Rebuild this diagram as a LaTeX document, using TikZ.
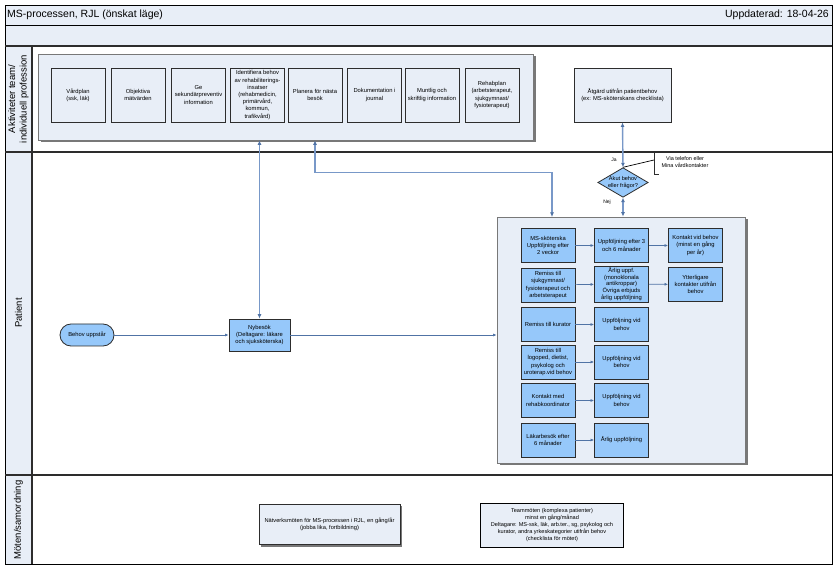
\documentclass[tikz,border=0pt]{standalone}
\usepackage{fontspec}
\setmainfont{Liberation Sans}
\usetikzlibrary{arrows.meta,shapes.geometric,calc}
\definecolor{lightbg}{RGB}{232,238,247}
\definecolor{boxblue}{RGB}{150,200,250}
\definecolor{dark}{RGB}{45,45,45}
\definecolor{connc}{RGB}{80,115,165}
\definecolor{connl}{RGB}{120,152,200}
\definecolor{shadowc}{RGB}{120,120,120}
\begin{document}
\begin{tikzpicture}[x=1pt,y=-1pt,
  boxfont/.style={font=\fontsize{5.8}{7.2}\selectfont},
  act/.style={draw=dark, fill=lightbg, line width=0.8pt, minimum width=54pt, minimum height=54pt, inner sep=0pt, align=center, boxfont},
  bb/.style={draw=dark, fill=boxblue, line width=0.8pt, minimum width=54pt, minimum height=34pt, inner sep=0pt, align=center, boxfont},
  cont/.style={draw=shadowc, fill=lightbg, line width=0.8pt, inner sep=0pt},
  conn/.style={draw=connc, line width=0.7pt, -{Latex[length=3.5pt,width=3pt]}},
  conn2/.style={draw=connl, line width=1.4pt, {Latex[length=4.5pt,width=4pt,color=connc]}-{Latex[length=4.5pt,width=4pt,color=connc]}},
  lanelbl/.style={rotate=90, align=center, font=\fontsize{9.5}{11.5}\selectfont},
  frame/.style={draw=black, line width=0.8pt},
  divider/.style={draw=dark, line width=1.6pt},
  smalllbl/.style={font=\fontsize{5}{6}\selectfont, inner sep=0pt}]
\useasboundingbox (0,0) rectangle (839,569);
\fill[white] (0,0) rectangle (839,569);

% header rows
\draw[frame, fill=lightbg] (5,5) rectangle (832,25);
\draw[frame, fill=lightbg] (5,25) rectangle (832,46);
\node[anchor=west, font=\fontsize{10.5}{12}\selectfont, inner sep=0pt] (title) at (7,15) {MS-processen, RJL (önskat läge)};
\node[anchor=east, font=\fontsize{10.5}{12}\selectfont, inner sep=0pt] (upd) at (829,15) {Uppdaterad: 18-04-26};

% lanes
\fill[lightbg] (5,46) rectangle (32,564);
\draw[frame] (5,46) rectangle (832,564);
\draw[divider] (5,46) -- (832,46);
\draw[divider] (5,152) -- (832,152);
\draw[divider] (5,475) -- (832,475);
\draw[draw=dark, line width=1.4pt] (32,46) -- (32,564);
\node[lanelbl] (lane1) at (18.5,99) {Aktiviteter team/\\individuell profession};
\node[lanelbl] (lane2) at (18.5,313) {Patient};
\node[lanelbl] (lane3) at (18.5,520) {Möten/samordning};

% containers
\fill[shadowc] (40.5,56.5) rectangle (535.5,142.5);
\node[cont, minimum width=495pt, minimum height=86pt] (ac) at (285.5,97) {};
\fill[shadowc] (499.5,219.5) rectangle (747.5,465.5);
\node[cont, minimum width=248pt, minimum height=246pt] (rc) at (621,340) {};

% activity boxes
\node[act] (a1) at (78,95) {Vårdplan\\(ssk, läk)};
\node[act] (a2) at (138,95) {Objektiva\\mätvärden};
\node[act] (a3) at (198.5,95) {Ge\\sekundärpreventiv\\information};
\node[act] (a4) at (257.5,95) {Identifiera behov\\av rehabiliterings-\\insatser\\(rehabmedicin,\\primärvård,\\kommun,\\trafikvård)};
\node[act] (a5) at (315,95) {Planera för nästa\\besök};
\node[act] (a6) at (374.5,95) {Dokumentation i\\journal};
\node[act] (a7) at (432,95) {Muntlig och\\skriftlig information};
\node[act] (a8) at (492,95) {Rehabplan\\(arbetsterapeut,\\sjukgymnast/\\fysioterapeut)};

\node[act, minimum width=97pt] (atg) at (622.5,95) {Åtgärd utifrån patientbehov\\(ex: MS-sköterskans checklista)};

% decision
\node[draw=dark, fill=boxblue, line width=0.8pt, shape=diamond, aspect=1.7, inner sep=0pt, align=center, font=\fontsize{5.6}{6.8}\selectfont] (dia) at (623,182.5) {Akut behov\\eller frågor?};
\node[smalllbl] (ja) at (614,160) {Ja};
\node[smalllbl] (nej) at (607,202) {Nej};
\node[align=center, font=\fontsize{5.5}{7}\selectfont, inner sep=0pt] (call) at (685,162.5) {Via telefon eller\\Mina vårdkontakter};
\coordinate (callpt) at (654,160);
\draw[dark, line width=0.7pt] (672,152.5) -- (654,152.5) -- (654,174) -- (659,174);
\draw[black, line width=0.7pt] (dia.north) -- (callpt);

% patient lane start
\node[draw=dark, fill=boxblue, line width=0.8pt, rounded corners=11pt, minimum width=54pt, minimum height=22pt, inner sep=0pt, boxfont] (beh) at (87,335) {Behov uppstår};
\node[bb, minimum width=61pt, minimum height=32pt] (nyb) at (259.5,335) {Nybesök\\(Deltagare: läkare\\och sjuksköterska)};

% right boxes
\node[bb] (r11) at (548,245.5) {MS-sköterska\\Uppföljning efter\\2 veckor};
\node[bb] (r12) at (621.5,245.5) {Uppföljning efter 3\\och 6 månader};
\node[bb] (r13) at (695.5,245.5) {Kontakt vid behov\\(minst en gång\\per år)};
\node[bb] (r21) at (548,285) {Remiss till\\sjukgymnast/\\fysioterapeut och\\arbetsterapeut};
\node[bb, minimum height=36pt, font=\fontsize{5.8}{6.9}\selectfont] (r22) at (621.5,284) {Årlig uppf.\\(monoklonala\\antikroppar)\\Övriga erbjuds\\årlig uppföljning};
\node[bb] (r23) at (695.5,284.5) {Ytterligare\\kontakter utifrån\\behov};
\node[bb] (r31) at (548,324.5) {Remiss till kurator};
\node[bb] (r32) at (621.5,324.5) {Uppföljning vid\\behov};
\node[bb] (r41) at (548,362) {Remiss till\\logoped, dietist,\\psykolog och\\uroterap.vid behov};
\node[bb] (r42) at (621.5,362) {Uppföljning vid\\behov};
\node[bb] (r51) at (548,400.5) {Kontakt med\\rehabkoordinator};
\node[bb] (r52) at (621.5,400.5) {Uppföljning vid\\behov};
\node[bb] (r61) at (548,440) {Läkarbesök efter\\6 månader};
\node[bb] (r62) at (621.5,440) {Årlig uppföljning};

% bottom lane
\fill[shadowc] (261,506) rectangle (402,547);
\node[draw=dark, fill=lightbg, line width=0.8pt, minimum width=141pt, minimum height=40pt, inner sep=0pt, align=center, font=\fontsize{5.7}{7.2}\selectfont] (net) at (329.5,524) {Nätverksmöten för MS-processen i RJL, en gång/år\\(jobba lika, fortbildning)};
\node[draw=black, fill=lightbg, line width=0.8pt, minimum width=143pt, minimum height=44pt, inner sep=0pt, align=center, font=\fontsize{5.6}{7.2}\selectfont] (team) at (552,525) {Teammöten (komplexa patienter)\\minst en gång/månad\\Deltagare: MS-ssk, läk, arb.ter., sg, psykolog och\\kurator, andra yrkeskategorier utifrån behov\\(checklista för mötet)};

% connectors
\coordinate (rcin) at (552,217);
\draw[conn] (beh.east) -- (nyb.west);
\draw[conn] (nyb.east) -- (rc.west |- nyb.east);
\draw[conn2] (nyb.north) -- (nyb.north |- ac.south);
\draw[conn2] (a5.south |- ac.south) -- ++(0,32) -| (rcin);
\draw[conn2] (atg.south) -- (dia.north);
\draw[conn2] (dia.south) -- (dia.south |- rc.north);
\draw[conn] (r11) -- (r12);
\draw[conn] (r12) -- (r13);
\draw[conn] (r21) -- (r22);
\draw[conn] (r22) -- (r23);
\draw[conn] (r31) -- (r32);
\draw[conn] (r41) -- (r42);
\draw[conn] (r51) -- (r52);
\draw[conn] (r61) -- (r62);
\end{tikzpicture}
\end{document}
